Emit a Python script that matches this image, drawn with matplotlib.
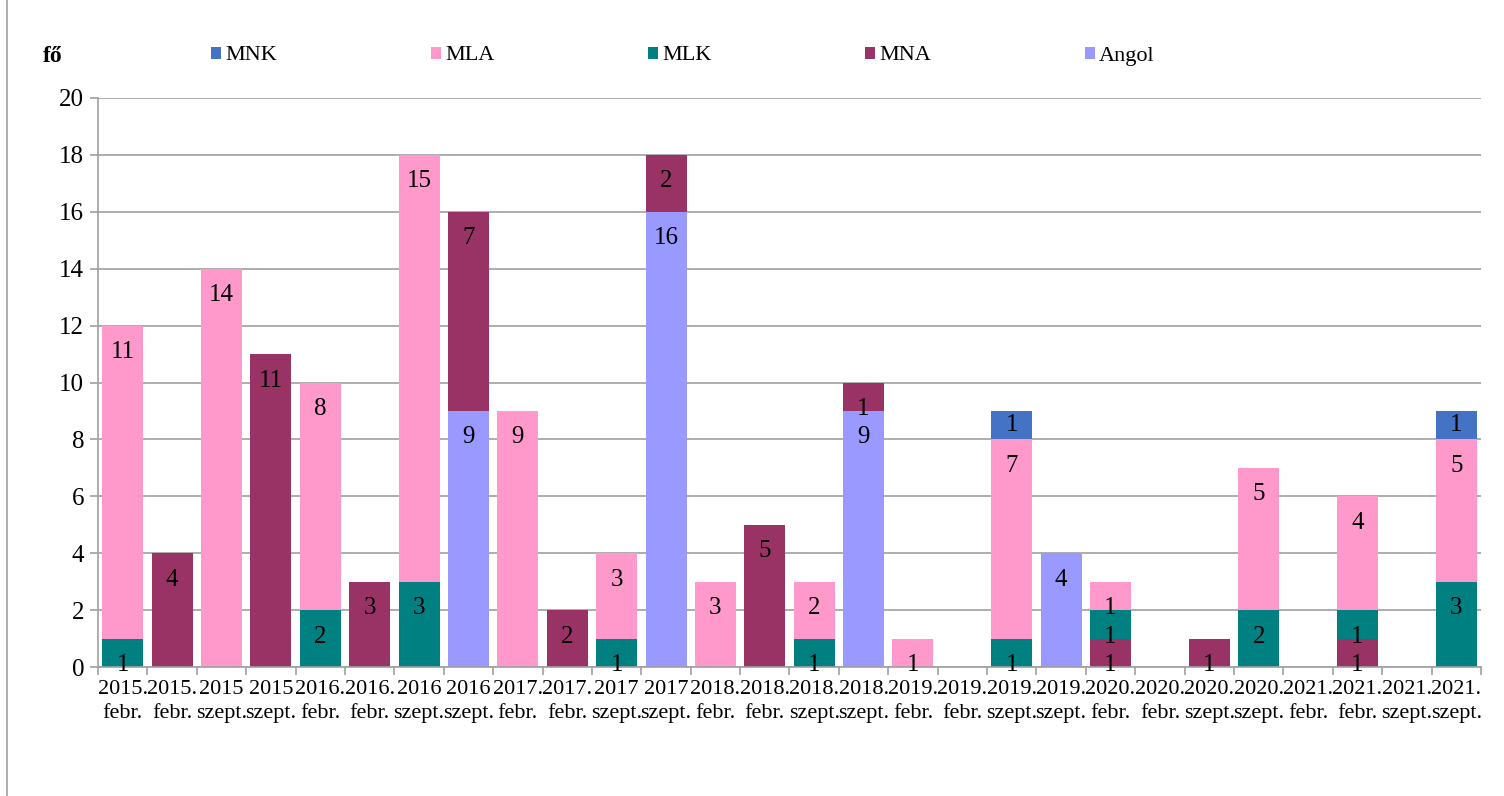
import matplotlib.pyplot as plt
from matplotlib.lines import Line2D
import numpy as np

categories = [
    '2015.\nfebr.', '2015.\nfebr.', '2015\nszept.', '2015\nszept.',
    '2016.\nfebr.', '2016.\nfebr.', '2016\nszept.', '2016\nszept.',
    '2017.\nfebr.', '2017.\nfebr.', '2017\nszept.', '2017\nszept.',
    '2018.\nfebr.', '2018.\nfebr.', '2018.\nszept.', '2018.\nszept.',
    '2019.\nfebr.', '2019.\nfebr.', '2019.\nszept.', '2019.\nszept.',
    '2020.\nfebr.', '2020.\nfebr.', '2020.\nszept.', '2020.\nszept.',
    '2021.\nfebr.', '2021.\nfebr.', '2021.\nszept.', '2021.\nszept.',
]

# stacked bottom -> top
angol = [0, 0, 0, 0, 0, 0, 0, 9, 0, 0, 0, 16, 0, 0, 0, 9, 0, 0, 0, 4, 0, 0, 0, 0, 0, 0, 0, 0]
mna = [0, 4, 0, 11, 0, 3, 0, 7, 0, 2, 0, 2, 0, 5, 0, 1, 0, 0, 0, 0, 1, 0, 1, 0, 0, 1, 0, 0]
mlk = [1, 0, 0, 0, 2, 0, 3, 0, 0, 0, 1, 0, 0, 0, 1, 0, 0, 0, 1, 0, 1, 0, 0, 2, 0, 1, 0, 3]
mla = [11, 0, 14, 0, 8, 0, 15, 0, 9, 0, 3, 0, 3, 0, 2, 0, 1, 0, 7, 0, 1, 0, 0, 5, 0, 4, 0, 5]
mnk = [0, 0, 0, 0, 0, 0, 0, 0, 0, 0, 0, 0, 0, 0, 0, 0, 0, 0, 1, 0, 0, 0, 0, 0, 0, 0, 0, 1]

series = [
    ('Angol', angol, '#9999FF'),
    ('MNA', mna, '#993366'),
    ('MLK', mlk, '#008080'),
    ('MLA', mla, '#FF99CC'),
    ('MNK', mnk, '#4472C4'),
]

plt.rcParams['font.family'] = ['Liberation Serif', 'DejaVu Serif']

fig = plt.figure(figsize=(15.04, 7.96), dpi=100)
W, H = 1504, 796
ax = fig.add_axes([98 / W, 1 - 667 / H, (1481 - 98) / W, (667 - 98) / H])

x = np.arange(len(categories))
bottom = np.zeros(len(categories))
for name, vals, color in series:
    vals = np.array(vals, dtype=float)
    ax.bar(x, vals, 0.83, bottom=bottom, color=color, label=name, zorder=2)
    for i, v in enumerate(vals):
        if v == 0:
            continue
        if name == 'MNK':
            ax.text(x[i], bottom[i] + v / 2, '%d' % v, ha='center', va='center',
                    fontsize=18, zorder=3)
        else:
            # Excel "inside end" style label
            ax.annotate('%d' % v, xy=(x[i], bottom[i] + v), xytext=(0, -26.5),
                        textcoords='offset pixels', ha='center', va='center',
                        fontsize=18, zorder=3)
    bottom += vals

ax.set_xlim(-0.5, len(categories) - 0.5)
ax.set_ylim(0, 20)
ax.set_yticks(range(0, 21, 2))
ax.set_xticks(x)
ax.set_xticklabels(categories, fontsize=16, linespacing=1.4)
ax.set_xticks(np.arange(-0.5, len(categories), 1), minor=True)
ax.tick_params(axis='x', which='major', length=0, pad=9)
ax.tick_params(axis='x', which='minor', length=6, color='#A0A0A0', width=1.2)
ax.tick_params(axis='y', length=6, color='#A0A0A0', width=1.2, labelsize=18, pad=4)

ax.grid(axis='y', color='#A0A0A0', linewidth=1.2, zorder=0)
ax.set_axisbelow(True)
for side in ['top', 'right']:
    ax.spines[side].set_visible(False)
for side in ['left', 'bottom']:
    ax.spines[side].set_color('#A0A0A0')
    ax.spines[side].set_linewidth(1.2)

fig.text(43 / W, 1 - 57 / H, 'fő', fontsize=17, fontweight='bold', va='center', ha='left')

handles, labels = ax.get_legend_handles_labels()
fig.legend(handles[::-1], labels[::-1], loc='center left', bbox_to_anchor=(211 / W, 1 - 56 / H),
           ncol=5, frameon=False, fontsize=16, handlelength=0.45, handleheight=0.45,
           handletextpad=0.2, columnspacing=6.9, borderaxespad=0, borderpad=0)

fig.add_artist(Line2D([7 / W, 7 / W], [0, 1], color='#A0A0A0', linewidth=1.2))

fig.savefig('out.png', dpi=100)
